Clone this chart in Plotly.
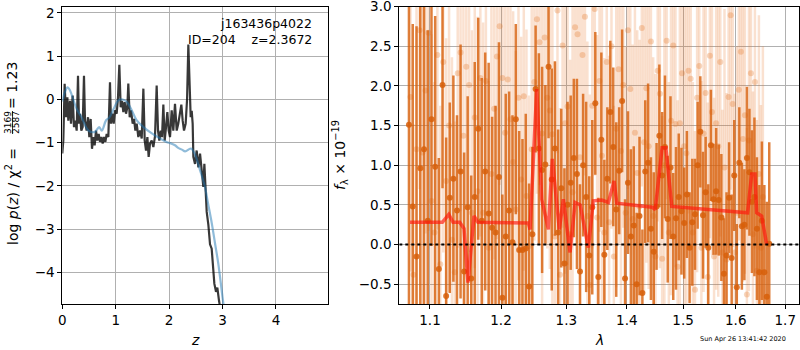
import math
import plotly.graph_objects as go

# ---------------- left panel: log p(z) ----------------
z_grid = [0.0, 0.005, 0.019, 0.044, 0.07, 0.095, 0.113, 0.144, 0.163, 0.194, 0.219, 0.244, 0.269,
          0.294, 0.313, 0.331, 0.356, 0.381, 0.406, 0.425, 0.456, 0.481, 0.506, 0.531, 0.556, 0.581,
          0.606, 0.631, 0.656, 0.681, 0.706, 0.731, 0.756, 0.781, 0.806, 0.831, 0.862, 0.893, 0.912,
          0.937, 0.962, 0.987, 1.018, 1.043, 1.068, 1.093, 1.118, 1.143, 1.168, 1.193, 1.218, 1.236,
          1.262, 1.287, 1.318, 1.343, 1.368, 1.393, 1.424, 1.455, 1.487, 1.518, 1.543, 1.568, 1.593,
          1.617, 1.642, 1.674, 1.705, 1.736, 1.767, 1.792, 1.817, 1.842, 1.867, 1.892, 1.917, 1.942,
          1.967, 1.992, 2.017, 2.048, 2.079, 2.11, 2.142, 2.17, 2.204, 2.229, 2.254, 2.279, 2.31,
          2.336, 2.36, 2.385, 2.404, 2.423, 2.441, 2.454, 2.485, 2.516, 2.548, 2.579, 2.61, 2.641,
          2.66, 2.685, 2.704, 2.735, 2.766, 2.797, 2.828, 2.847, 2.878, 2.903, 2.934, 2.953, 2.98]
logpz = [-1.25, -1.18, -0.95, 0.36, -0.41, 0.05, -0.49, -0.03, -0.56, 0.09, -0.64, -0.49, -0.72,
         0.55, -0.56, -0.33, -0.72, -0.64, 0.55, -0.49, -0.72, -0.41, -0.87, -0.45, -1.14, -0.87,
         -1.06, -0.72, -0.95, -0.8, -0.98, -0.87, -1.02, -0.87, -0.98, -0.8, -0.87, 0.4, -0.56,
         -0.33, -0.56, -0.25, -0.33, 0.05, 0.8, -0.18, -0.03, -0.29, -0.06, -0.33, -0.18, 0.37,
         -0.41, -0.25, -0.56, -0.45, -0.72, -0.56, -0.87, -0.72, -0.9, 0.25, -0.95, -1.18, -0.87,
         -1.33, -1.02, -0.95, -1.1, -0.85, 0.32, -0.72, -0.95, -0.72, -0.87, -0.12, -0.95, -0.64,
         -0.29, -0.72, -0.87, -0.25, -0.72, -0.1, -0.72, -0.57, -0.3, -0.12, -0.49, -0.72, -0.56,
         0.0, 1.27, 0.05, -0.41, -0.26, -0.56, -1.33, -1.49, -1.18, -1.57, -1.25, -1.65, -2.02,
         -1.49, -2.25, -2.6, -2.9, -3.35, -3.45, -3.95, -4.26, -4.45, -4.35, -4.65, -4.85, -5.0]

z_fit = [0.0, 0.05, 0.1, 0.14, 0.27, 0.36, 0.49, 0.61, 0.69, 0.74, 0.82, 0.88, 0.96, 1.05, 1.13,
         1.21, 1.30, 1.39, 1.52, 1.67, 1.83, 1.96, 2.02, 2.11, 2.17, 2.24, 2.30, 2.39, 2.42, 2.49,
         2.58, 2.67, 2.73, 2.80, 2.86, 2.92, 3.00, 3.03]
logpz_fit = [-0.05, 0.18, 0.28, 0.22, -0.22, -0.41, -0.72, -0.75, -0.64, -0.72, -0.48, -0.42,
             -0.22, -0.02, 0.0, -0.06, -0.25, -0.48, -0.64, -0.78, -0.9, -0.99, -1.01, -1.06,
             -1.12, -1.16, -1.2, -1.14, -1.14, -1.29, -1.64, -2.02, -2.41, -2.87, -3.33, -3.79,
             -4.57, -4.85]

z_ticks = [0, 1, 2, 3, 4]
z_ticktext = ["0", "1", "2", "3", "4"]
lp_ticks = [-4, -3, -2, -1, 0, 1, 2]
lp_ticktext = ["\u22124", "\u22123", "\u22122", "\u22121", "0", "1", "2"]

# ---------------- right panel: spectrum ----------------
wave_dark = [1.072, 1.077, 1.082, 1.087, 1.092, 1.097, 1.102, 1.107, 1.112, 1.117,
             1.122, 1.127, 1.132, 1.137, 1.142, 1.147, 1.152, 1.157, 1.162, 1.167,
             1.172, 1.177, 1.182, 1.187, 1.192, 1.197, 1.202, 1.207, 1.212, 1.217,
             1.222, 1.227, 1.232, 1.237, 1.242, 1.247, 1.252, 1.257, 1.262, 1.267,
             1.272, 1.277, 1.282, 1.287, 1.292, 1.297, 1.302, 1.307, 1.312, 1.317,
             1.322, 1.327, 1.332, 1.337, 1.342, 1.347, 1.352, 1.357, 1.362, 1.367,
             1.372, 1.377, 1.382, 1.387, 1.392, 1.397, 1.402, 1.407, 1.412, 1.417,
             1.422, 1.427, 1.432, 1.437, 1.442, 1.447, 1.452, 1.457, 1.462, 1.467,
             1.472, 1.477, 1.482, 1.487, 1.492, 1.497, 1.502, 1.507, 1.512, 1.517,
             1.522, 1.527, 1.532, 1.537, 1.542, 1.547, 1.552, 1.557, 1.562, 1.567,
             1.572, 1.577, 1.582, 1.587, 1.592, 1.597, 1.602, 1.607, 1.612, 1.617,
             1.622, 1.627, 1.632, 1.637, 1.642, 1.647, 1.652, 1.657, 1.662, 1.667]
flux_dark = [1.51, 0.48, -0.15, 0.96, 1.2, 0.3, 1.58, 0.98, -0.31, 2.01,
             -0.65, 0.59, 0.83, 0.43, 0.92, -0.34, 0.47, -0.43, 0.6, 1.46,
             0.3, 0.92, 0.39, 0.21, 0.15, 0.85, -0.67, 0.1, 0.43, 0.03,
             1.58, -0.07, -0.07, -0.05, -0.53, 0.13, 1.96, 1.21, 0.94, 1.01,
             2.24, 0.82, 1.21, 0.15, 0.71, -0.24, 0.5, 0.78, 1.09, 0.89,
             -0.34, 1.0, 0.6, -0.14, 0.47, 1.78, -0.41, 1.32, -0.13, 0.83,
             1.67, 1.23, 0.44, 0.93, 1.81, -0.43, 0.78, 0.1, 0.24, -0.5,
             0.36, -0.61, 0.92, 1.03, 0.2, -0.09, 0.48, 1.37, 0.87, 1.23,
             0.32, 0.97, 0.1, 0.33, 0.6, 0.42, 0.27, 0.63, -0.04, 0.28,
             0.38, 1.0, 1.42, 0.37, 0.66, -0.04, 1.25, 0.57, 0.67, 0.56,
             0.34, -0.37, -0.14, 0.59, -0.17, 0.87, -0.54, 1.03, 0.23, 0.25,
             1.09, 0.91, 0.54, 0.6, 0.2, -0.35, 0.3, -0.35, -0.66, 0.01]
err_dark = [2.6, 2.3, 2.9, 2.5, 2.2, 2.4,
            1.6, 1.9, 1.4, 1.3, 2.0, 1.2, 1.3, 1.2, 1.6, 1.5, 1.4, 1.3, 1.7, 1.4,
            1.8, 1.5, 1.9, 1.4, 1.6, 1.7, 1.3, 1.8, 1.5, 1.6, 1.2, 1.5, 1.4, 1.7, 1.3, 1.1,
            0.8, 1.2, 1.3, 1.0, 0.9, 1.4, 1.1, 1.3, 1.0, 1.2, 1.3, 1.1, 1.0, 1.2, 1.1, 0.9,
            1.2, 1.0, 1.1, 0.9, 1.0, 1.1, 1.2, 0.9,
            0.9, 1.0, 1.1, 0.8, 0.9, 1.0, 0.9, 1.1, 1.0, 0.9, 1.0, 0.8, 0.9, 1.0, 0.9, 1.0,
            0.8, 0.9, 0.8, 0.9, 0.8, 0.9, 0.8, 0.9, 0.8, 0.8,
            0.7, 0.8, 0.7, 0.8, 0.7, 0.8, 0.7, 0.8, 0.7, 0.8, 0.7, 0.7, 0.8, 0.7, 0.8, 0.7,
            0.8, 0.7, 0.8, 0.7, 0.8, 0.7, 0.8, 0.7,
            0.9, 0.8, 0.9, 1.0, 0.9, 1.1, 1.0, 1.1, 1.2, 1.28]

wave_light = [1.074, 1.078, 1.082, 1.086, 1.090, 1.094, 1.098, 1.102, 1.106, 1.110,
              1.114, 1.118, 1.122, 1.126, 1.130, 1.134, 1.138, 1.142, 1.146, 1.150,
              1.154, 1.158, 1.162, 1.166, 1.170, 1.174, 1.178, 1.182, 1.186, 1.190,
              1.194, 1.198, 1.202, 1.206, 1.210, 1.214, 1.218, 1.222, 1.226, 1.230,
              1.234, 1.238, 1.242, 1.246, 1.250, 1.254, 1.258, 1.262, 1.266, 1.270,
              1.274, 1.278, 1.282, 1.286, 1.290, 1.294, 1.298, 1.302, 1.306, 1.310,
              1.314, 1.318, 1.322, 1.326, 1.330, 1.334, 1.338, 1.342, 1.346, 1.350,
              1.354, 1.358, 1.362, 1.366, 1.370, 1.374, 1.378, 1.382, 1.386, 1.390,
              1.394, 1.398, 1.402, 1.406, 1.410, 1.414, 1.418, 1.422, 1.426, 1.430,
              1.434, 1.438, 1.442, 1.446, 1.450, 1.454, 1.458, 1.462, 1.466, 1.470,
              1.474, 1.478, 1.482, 1.486, 1.490, 1.494, 1.498, 1.502, 1.506, 1.510,
              1.514, 1.518, 1.522, 1.526, 1.530, 1.534, 1.538, 1.542, 1.546, 1.550,
              1.554, 1.558, 1.562, 1.566, 1.570, 1.574, 1.578, 1.582, 1.586, 1.590,
              1.594, 1.598, 1.602, 1.606, 1.610, 1.614, 1.618, 1.622, 1.626, 1.630,
              1.634, 1.638, 1.642, 1.646, 1.650, 1.654]
flux_light = [1.86, -0.38, 1.2, 2.70, 1.16, 1.94, 2.67, 0.55, 0.15, 2.39,
              -0.25, 2.3, 0.8, 1.5, 0.06, -0.35, 2.16, 2.42, 1.37, 2.24,
              2.01, 0.4, 1.6, 0.67, 2.1, 0.4, 2.06, -0.04, 0.89, 1.71,
              2.37, 2.75, 2.1, 1.41, 2.08, 1.58, 1.04, 0.44, 1.85, 0.82,
              1.87, 0.61, -0.02, 1.2, 2.05, 2.84, 2.55, 1.4, 2.61, 1.85,
              1.69, 1.39, 0.1, 2.95, -0.38, 2.51, 1.53, 1.74, 0.13, 0.66,
              2.74, 2.65, 1.1, 2.39, 2.87, 0.36, -0.51, 1.75, 2.97, 0.34,
              2.06, 1.12, 0.15, 2.3, 0.28, 2.5, -0.15, 1.46, 2.21, 1.18,
              2.01, 0.4, 2.7, 1.96, 0.32, 1.41, 0.9, 0.48, 2.73, 1.29,
              1.97, 1.24, 2.56, 0.36, -0.15, 2.19, 1.9, -0.18, 1.0, 2.57,
              0.15, 1.56, 2.51, 1.52, -0.28, 1.53, 2.16, 1.24, 1.15, 2.19,
              2.09, 0.15, -0.57, 1.85, 2.25, -0.04, 1.4, 1.91, -0.41, 2.38,
              1.67, -0.15, 1.53, 1.24, 2.3, -0.1, 0.97, -0.19, 1.86, 2.89,
              1.77, -0.1, 0.4, 1.95, 2.43, 1.33, 1.63, -0.63, 1.31, 2.16,
              0.13, 2.05, -0.33, 0.89, -0.04, 0.6]
err_light = [2.2, 1.9, 2.4, 2.0, 2.3, 1.8, 2.5, 2.1, 1.9, 2.2,
             2.0, 2.4, 1.8, 2.1, 2.3, 1.9, 2.2, 2.0, 2.5, 1.8,
             2.1, 2.3, 1.9, 2.2, 2.0, 2.4, 1.8, 2.1, 2.2, 1.9,
             2.3, 2.0, 1.8, 2.2, 2.1, 2.4, 1.9, 2.0, 2.3, 1.8,
             2.2, 2.1, 1.9, 2.4, 2.0, 2.2, 1.8, 2.3, 2.1, 1.9,
             2.0, 2.4, 2.2, 1.8, 2.1, 2.3, 1.9, 2.0, 2.2, 2.4,
             1.8, 2.1, 2.3, 1.9, 2.0, 2.2, 2.4, 1.8, 2.1, 2.3,
             1.9, 2.0, 2.2, 1.8, 2.1, 2.3, 1.9, 2.0, 2.2, 2.4,
             1.8, 2.1, 2.0, 1.9, 2.2, 2.3, 1.8, 2.1, 2.0, 1.9,
             2.2, 1.8, 2.1, 2.0, 2.3, 1.9, 2.2, 1.8, 2.1, 2.0,
             1.9, 2.2, 2.0, 1.8, 2.1, 2.3, 1.9, 2.0, 2.2, 1.8,
             2.1, 1.9, 2.0, 2.2, 1.8, 2.1, 2.0, 1.9, 2.2, 2.3,
             1.8, 2.0, 2.1, 1.9, 2.2, 1.8, 2.0, 2.1, 1.9, 2.2,
             1.8, 2.0, 2.1, 1.9, 2.2, 1.8, 2.0, 2.1, 1.9, 2.0,
             1.8, 2.1, 1.9, 2.0, 1.8, 1.9]

model_wave = [1.0734, 1.1168, 1.1256, 1.1315, 1.1408, 1.1468, 1.1524, 1.1609, 1.1666,
              1.2409, 1.2435, 1.2537, 1.2614, 1.2655, 1.2717, 1.2779, 1.2889, 1.2953, 1.3060,
              1.3141, 1.3222, 1.3356, 1.3438, 1.3577, 1.3688, 1.3783, 1.3829,
              1.4441, 1.4496, 1.4619, 1.4687, 1.4793,
              1.5985, 1.6234, 1.6315, 1.6381, 1.6415, 1.6516, 1.6617]
model_flux = [0.28, 0.28, 0.38, 0.28, 0.28, 0.2, -0.48, 0.36, 0.28,
              0.27, 0.19, 1.96, 0.57, 0.4, 0.19, 1.08, 0.19, 0.57, -0.1,
              0.53, 0.5, -0.04, 0.55, 0.56, 0.53, 0.8, 0.52,
              0.47, 0.44, 1.22, 1.22, 0.48,
              0.42, 0.40, 0.89, 0.89, 0.40, 0.36, 0.0]
zero_level = 0.0

wave_ticks = [1.1, 1.2, 1.3, 1.4, 1.5, 1.6, 1.7]
wave_ticktext = ["1.1", "1.2", "1.3", "1.4", "1.5", "1.6", "1.7"]
flux_ticks = [-0.5, 0.0, 0.5, 1.0, 1.5, 2.0, 2.5, 3.0]
flux_ticktext = ["\u22120.5", "0.0", "0.5", "1.0", "1.5", "2.0", "2.5", "3.0"]

FONT = "DejaVu Sans"
W, H = 800, 350
wave_min, wave_max = 1.0594, 1.7289

fig = go.Figure()

# left panel traces
fig.add_trace(go.Scatter(x=z_grid, y=logpz, mode="lines",
                         line=dict(color="rgba(0,0,0,0.78)", width=2.2),
                         xaxis="x", yaxis="y", showlegend=False, hoverinfo="skip"))
fig.add_trace(go.Scatter(x=z_fit, y=logpz_fit, mode="lines", line_shape="spline",
                         line=dict(color="rgba(31,119,180,0.5)", width=2.2),
                         xaxis="x", yaxis="y", showlegend=False, hoverinfo="skip"))

# right panel traces
fig.add_trace(go.Scatter(x=wave_light, y=flux_light, mode="markers",
                         marker=dict(color="rgba(230,120,40,0.3)", size=6, line=dict(width=0)),
                         error_y=dict(type="data", array=err_light, visible=True,
                                      color="rgba(230,120,40,0.22)", thickness=2.5, width=0),
                         xaxis="x2", yaxis="y2", showlegend=False, hoverinfo="skip"))
fig.add_trace(go.Scatter(x=wave_dark, y=flux_dark, mode="markers",
                         marker=dict(color="rgba(215,95,10,0.85)", size=6, line=dict(width=0)),
                         error_y=dict(type="data", array=err_dark, visible=True,
                                      color="rgba(215,95,10,0.8)", thickness=2.5, width=0),
                         xaxis="x2", yaxis="y2", showlegend=False, hoverinfo="skip"))
fig.add_trace(go.Scatter(x=model_wave, y=model_flux, mode="lines",
                         line=dict(color="rgba(255,20,10,0.65)", width=3.5),
                         xaxis="x2", yaxis="y2", showlegend=False, hoverinfo="skip"))
fig.add_trace(go.Scatter(x=[wave_min, wave_max], y=[zero_level, zero_level], mode="lines",
                         line=dict(color="black", width=2, dash="dot"),
                         xaxis="x2", yaxis="y2", showlegend=False, hoverinfo="skip"))

ydom = [1 - 304 / H, 1 - 6.5 / H]
axis_common = dict(showgrid=True, gridcolor="#b0b0b0", gridwidth=1, zeroline=False,
                   showline=True, linecolor="black", linewidth=1, mirror=True,
                   ticks="outside", ticklen=4, tickcolor="black", tickwidth=1,
                   automargin=False, ticklabeloverflow="allow",
                   tickfont=dict(family=FONT, size=13.5, color="black"))

fig.update_layout(
    width=W, height=H, autosize=False,
    margin=dict(l=0, r=0, t=0, b=0, pad=0),
    paper_bgcolor="white", plot_bgcolor="white",
    font=dict(family=FONT, color="black"),
    xaxis=dict(domain=[62.3 / W, 328 / W], range=[0, 4.975], anchor="y",
               tickvals=z_ticks, ticktext=z_ticktext, **axis_common),
    yaxis=dict(domain=ydom, range=[-4.73, 2.15], anchor="x",
               tickvals=lp_ticks, ticktext=lp_ticktext, **axis_common),
    xaxis2=dict(domain=[399.3 / W, 799 / W], type="log",
                range=[math.log10(wave_min), math.log10(wave_max)], anchor="y2",
                tickvals=wave_ticks, ticktext=wave_ticktext, **axis_common),
    yaxis2=dict(domain=ydom, range=[-0.75, 3.0005], anchor="x2",
                tickvals=flux_ticks, ticktext=flux_ticktext, **axis_common),
)

def px_x(p):
    return p / W

def px_y(p):
    return 1 - p / H

annots = [
    dict(text="j163436p4022", x=px_x(314), y=px_y(23), xanchor="right", yanchor="middle",
         font=dict(size=12.5)),
    dict(text="ID=204\u00a0\u00a0\u00a0\u00a0z=2.3672", x=px_x(314), y=px_y(39),
         xanchor="right", yanchor="middle", font=dict(size=12.5)),
    dict(text="<i>z</i>", x=px_x(195), y=px_y(340), xanchor="center", yanchor="middle",
         font=dict(size=14)),
    dict(text="<i>\u03bb</i>", x=px_x(599), y=px_y(340), xanchor="center", yanchor="middle",
         font=dict(size=14)),
    # left y label, split so the chi^2 fraction can be stacked
    dict(text="log <i>p</i>(<i>z</i>) / \u03c7<sup>2</sup> =",
         x=px_x(12), y=px_y(197), xanchor="center", yanchor="middle", textangle=-90,
         font=dict(size=14)),
    dict(text="3169", x=px_x(8.5), y=px_y(122.5), xanchor="center", yanchor="middle",
         textangle=-90, font=dict(size=9)),
    dict(text="2587", x=px_x(16.5), y=px_y(122.5), xanchor="center", yanchor="middle",
         textangle=-90, font=dict(size=9)),
    dict(text="=\u00a01.23",
         x=px_x(12), y=px_y(86), xanchor="center", yanchor="middle", textangle=-90,
         font=dict(size=14)),
    dict(text="<i>f</i><sub>\u03bb</sub> \u00d7 10<sup>\u221219</sup>",
         x=px_x(340), y=px_y(155), xanchor="center", yanchor="middle", textangle=-90,
         font=dict(size=14)),
    dict(text="Sun Apr 26 13:41:42 2020", x=px_x(788), y=px_y(339), xanchor="right",
         yanchor="middle", font=dict(size=6.5)),
]
for a in annots:
    a.update(xref="paper", yref="paper", showarrow=False)
    a["font"] = dict(family=FONT, color="black", **a["font"])
fig.update_layout(annotations=annots)

# fraction bar of the chi^2 label (text decoration)
fig.add_shape(type="line", xref="paper", yref="paper",
              x0=px_x(12.5), x1=px_x(12.5), y0=px_y(111), y1=px_y(134),
              line=dict(color="black", width=0.8))

fig.write_html("out.html",
               config={"displayModeBar": False},
               post_script="document.body.style.margin='0';document.body.style.padding='0';"
                           "document.documentElement.style.overflow='hidden';")
